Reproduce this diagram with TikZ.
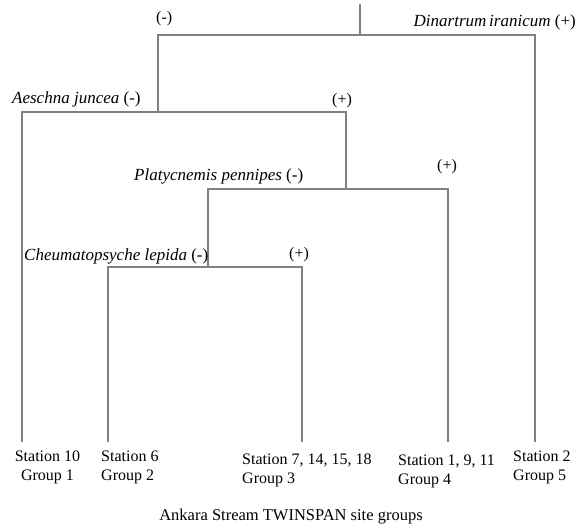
\documentclass[tikz,border=0pt]{standalone}
\usepackage{fontspec}
\setmainfont{Liberation Serif}
\usetikzlibrary{positioning}
\definecolor{treegray}{RGB}{128,128,128}

\begin{document}
\begin{tikzpicture}[x=1pt, y=-1pt,
        branch/.style={draw=treegray, line width=1.6pt},
        txt/.style={inner sep=0pt, font=\fontsize{16}{19}\selectfont},
        spec/.style={inner sep=0pt, anchor=base west, font=\fontsize{17}{19}\selectfont},
        sign/.style={txt, anchor=base west}]
        \useasboundingbox (0,0) rectangle (581,530);

        % Split points
        \coordinate (root) at (360,4);
        \coordinate (s1) at (360,35);
        \coordinate (s2) at (158,112);
        \coordinate (s3) at (346,189);
        \coordinate (s4) at (208,267);

        % Site groups (leaves)
        \coordinate (g1) at (22,442);
        \coordinate (g2) at (108,442);
        \coordinate (g3) at (302,442);
        \coordinate (g4) at (448,442);
        \coordinate (g5) at (535,442);

        % Tree
        \draw[branch] (root) -- (s1);
        \draw[branch] (s1) -| (s2);
        \draw[branch] (s1) -| (g5);
        \draw[branch] (s2) -| (g1);
        \draw[branch] (s2) -| (s3);
        \draw[branch] (s3) -| (s4);
        \draw[branch] (s3) -| (g4);
        \draw[branch] (s4) -| (g2);
        \draw[branch] (s4) -| (g3);

        % Indicator species
        \node[sign] (m1) at (156,23) {(-)};
        \node[spec, anchor=base east] (p1) at (576,26) {\textit{Dinartrum\,iranicum} (+)};
        \node[spec] (m2) at (12,103) {\textit{Aeschna juncea} (-)};
        \node[sign] (p2) at (332,104) {(+)};
        \node[spec] (m3) at (134,180) {\textit{Platycnemis pennipes} (-)};
        \node[sign] (p3) at (437,170) {(+)};
        \node[spec] (m4) at (24,260) {\textit{Cheumatopsyche lepida} (-)};
        \node[sign] (p4) at (289,258) {(+)};

        % Group labels
        \node[txt, align=center, anchor=north] (l1) at (47.5,451) {Station 10\\Group 1};
        \node[txt, align=left, anchor=north west] (l2) at (101,451) {Station 6\\Group 2};
        \node[txt, align=left, anchor=north west] (l3) at (242,454) {Station 7, 14, 15, 18\\Group 3};
        \node[txt, align=left, anchor=north west] (l4) at (398,455) {Station 1, 9, 11\\Group 4};
        \node[txt, align=left, anchor=north west] (l5) at (513,451) {Station 2\\Group 5};

        % Caption
        \node[txt, font=\fontsize{16.5}{19}\selectfont] (cap) at (291,517) {Ankara Stream TWINSPAN site groups};
\end{tikzpicture}
\end{document}
